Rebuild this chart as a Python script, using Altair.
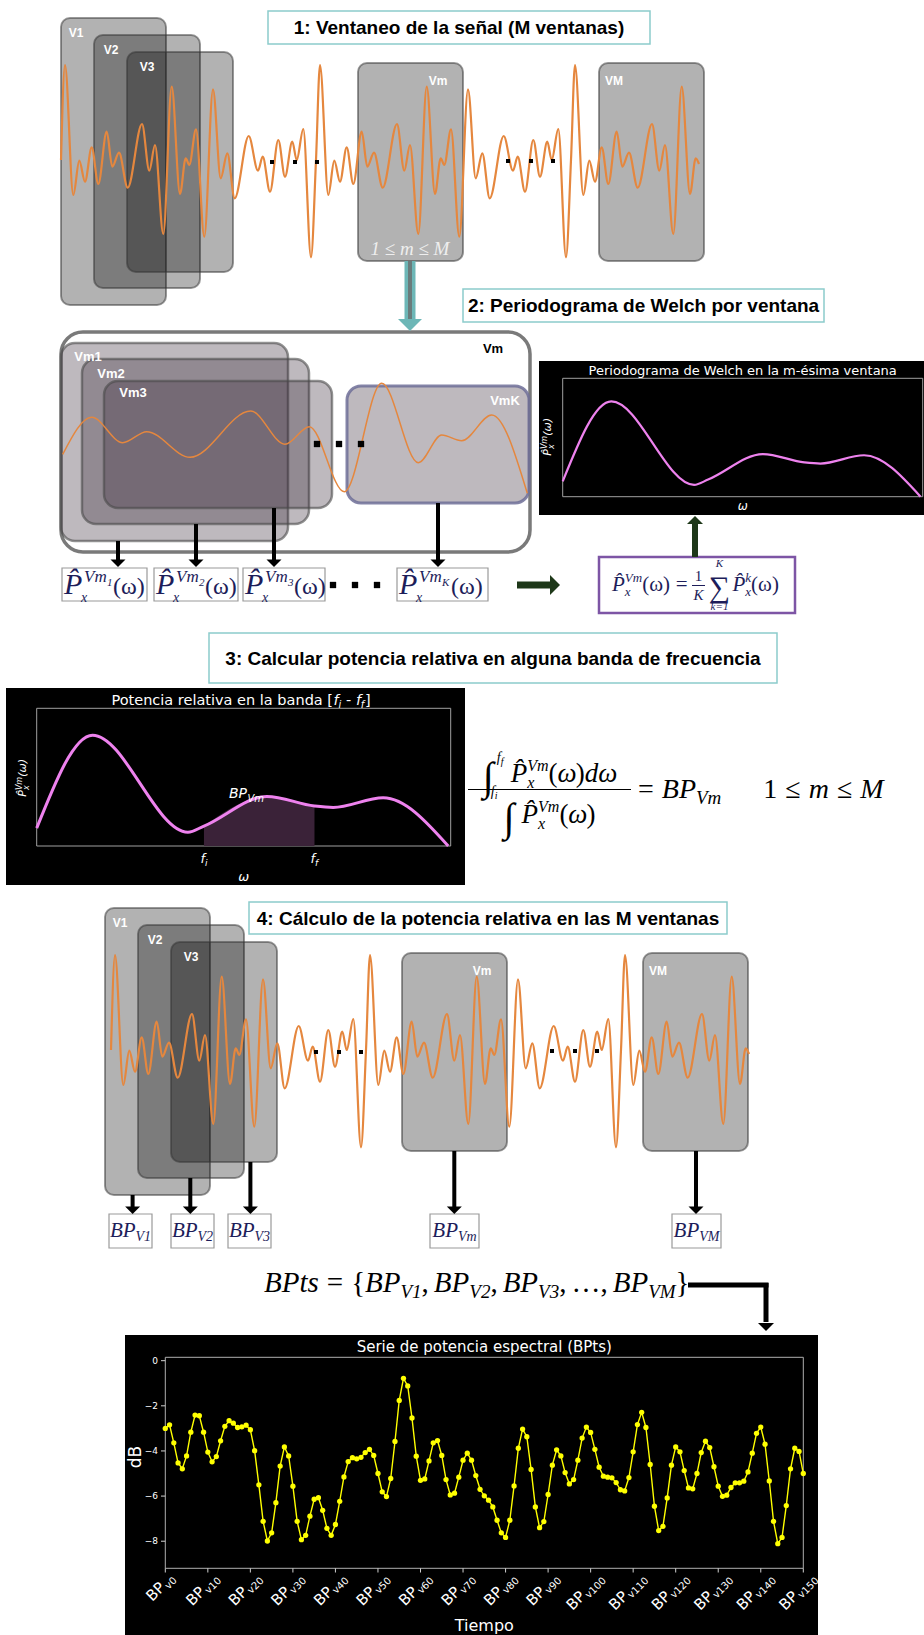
import altair as alt
import pandas as pd

W, H = 924, 1635

BLACK, WHITE = "#000000", "#ffffff"
ORANGE = "#e5873e"
VIOLET = "#ee82ee"
NAVY = "#1d1d5a"
TEAL = "#6db7b7"
DKGREEN = "#1e3819"
YELLOW = "#ffff00"

# ------------------------------------------------------------------ data
# raw signal: sample position and amplitude at each turning point
SIG_T = [0, 4, 12.3, 18.3, 24, 30.7, 37.3, 45.7, 51.3, 58, 66.7, 81, 88.3, 94, 102.3, 110.7,
         119, 124.7, 128.3, 135, 143.3, 152, 159.7, 166.3, 173.7, 187.7, 197, 201.7, 209,
         217.3, 224, 231.3, 235.7, 242.3, 250,
         255, 259, 267.3, 273.3, 279, 285.7, 292.3, 300.7, 306.3, 313, 321.7, 336, 343.3, 349,
         357.3, 365.7, 374, 379.7, 383.3, 390, 398.3, 407, 414.7, 421.3, 428.7, 442.7, 452,
         456.7, 464, 472.3, 479, 486.3, 490.7, 497.3, 505,
         510, 514, 522.3, 528.3, 534, 540.7, 547.3, 555.7, 561.3, 568, 576.7, 591, 598.3, 604,
         612.3, 620.7, 629, 634.7, 638]
SIG_A = [0, 95, -35, -0.7, -21.7, 12.7, -24, 28.3, -6.7, 7.3, -27.7, 36, -10.7, 15, -74, 73.3,
         -34, 1.7, -5, 30.7, -76.7, 70.7, -18.3, 6.7, -38.3, 24, -10.7, 3.3, -31.7,
         20, -16.7, 18.3, 0, 31, -97.3,
         0, 95, -35, -0.7, -21.7, 12.7, -24, 28.3, -6.7, 7.3, -27.7, 36, -10.7, 15,
         -74, 73.3, -34, 1.7, -5, 30.7, -76.7, 70.7, -18.3, 6.7, -38.3, 24, -10.7,
         3.3, -31.7, 20, -16.7, 18.3, 0, 31, -97.3,
         0, 95, -35, -0.7, -21.7, 12.7, -24, 28.3, -6.7, 7.3, -27.7, 36, -10.7, 15,
         -74, 73.3, -34, 1.7, -4]
# one window of the signal, magnified
SEG_T = [0, 29, 60, 84, 127.3, 188, 222.3, 246.6, 281.6, 319, 355.6, 379, 399, 429, 464.6]
SEG_A = [-9.3, 27.7, 2.3, 13.3, -12.3, 34, 0.7, 18.3, -46.7, 61.7, -17.7, 10, 4.3, 30, -48.3]
# Welch periodogram of the window (normalised frequency, normalised power)
PSD_W = [0.0, 0.135, 0.365, 0.404, 0.556, 0.671, 0.716, 0.837, 0.994]
PSD_P = [0.13, 0.805, 0.10, 0.145, 0.36, 0.29, 0.28, 0.35, 0.0]
BAND = (0.404, 0.671)
# relative band power of every window (dB)
BP_DB = [-3.00, -2.84, -3.64, -4.53, -4.79, -4.22, -3.17, -2.41, -2.44, -3.17,
         -4.05, -4.48, -4.25, -3.55, -2.91, -2.66, -2.77, -2.96, -2.93, -2.86,
         -3.06, -3.99, -5.50, -7.12, -7.99, -7.63, -6.29, -4.67, -3.82, -4.22,
         -5.56, -7.12, -7.93, -7.74, -6.89, -6.14, -6.07, -6.63, -7.43, -7.74,
         -7.26, -6.23, -5.15, -4.47, -4.30, -4.35, -4.28, -4.07, -3.93, -4.20,
         -5.00, -5.81, -6.02, -5.22, -3.58, -1.76, -0.78, -1.12, -2.54, -4.23,
         -5.30, -5.24, -4.44, -3.64, -3.54, -4.20, -5.27, -5.95, -5.87, -5.16,
         -4.41, -4.10, -4.41, -5.09, -5.70, -5.99, -6.18, -6.48, -7.07, -7.63,
         -7.83, -7.07, -5.55, -3.88, -3.03, -3.37, -4.82, -6.48, -7.40, -7.13,
         -5.93, -4.63, -3.95, -4.22, -4.96, -5.46, -5.27, -4.41, -3.43, -2.94,
         -3.18, -3.93, -4.72, -5.12, -5.16, -5.19, -5.40, -5.72, -5.77, -5.18,
         -4.04, -2.83, -2.29, -2.96, -4.60, -6.45, -7.53, -7.34, -6.08, -4.63,
         -3.82, -4.04, -4.87, -5.64, -5.68, -5.00, -4.07, -3.57, -3.85, -4.70,
         -5.56, -6.01, -5.96, -5.62, -5.41, -5.41, -5.34, -4.93, -4.10, -3.22,
         -2.94, -3.70, -5.33, -7.12, -8.11, -7.83, -6.42, -4.79, -3.88, -4.02, -5.00]
BP_TICKS = [0, 10, 20, 30, 40, 50, 60, 70, 80, 90, 100, 110, 120, 130, 140, 150]
BP_TICK_SUBS = ["v0", "v10", "v20", "v30", "v40", "v50", "v60", "v70", "v80", "v90",
                "v100", "v110", "v120", "v130", "v140", "v150"]
DB_TICKS = [0, -2, -4, -6, -8]
DB_LABELS = ["0", "\u22122", "\u22124", "\u22126", "\u22128"]

# ------------------------------------------------------------------ scales
PX = alt.Scale(domain=[0, W], range=[0, W], nice=False, zero=False)
PY = alt.Scale(domain=[0, H], range=[0, H], nice=False, zero=False)
BX = alt.Scale(domain=[0, 150], range=[165.3, 803.3], nice=False, zero=False)
BY = alt.Scale(domain=[-9.2, 0.15], range=[1568.3, 1357.3], nice=False, zero=False)
GX2 = alt.Scale(domain=[0, 1], range=[562.7, 922.7], nice=False, zero=False)
GY2 = alt.Scale(domain=[0, 1], range=[496.7, 378.3], nice=False, zero=False)
GX3 = alt.Scale(domain=[0, 1], range=[36.7, 450.7], nice=False, zero=False)
GY3 = alt.Scale(domain=[0, 1], range=[846, 708.3], nice=False, zero=False)

layers = []

# ------------------------------------------------------------------ boxes
def box(lst, x0, x1, y0, y1, fill=WHITE, fo=1.0, stroke=BLACK, so=1.0, sw=1.0):
    lst.append(dict(x0=x0, x1=x1, y0=y0, y1=y1, fill=fill, fo=fo,
                    stroke=stroke, so=so, sw=sw))


def rect_layer(rows, radius=0):
    df = pd.DataFrame(rows)
    return alt.Chart(df).mark_rect(cornerRadius=radius).encode(
        x=alt.X("x0:Q", scale=PX, axis=None), x2="x1:Q",
        y=alt.Y("y0:Q", scale=PY, axis=None), y2="y1:Q",
        fill=alt.Fill("fill:N", scale=None),
        fillOpacity=alt.FillOpacity("fo:Q", scale=None),
        stroke=alt.Stroke("stroke:N", scale=None),
        strokeOpacity=alt.StrokeOpacity("so:Q", scale=None),
        strokeWidth=alt.StrokeWidth("sw:Q", scale=None))


flat = []
TITLE_EDGE = "#8ccccc"
box(flat, 268, 650, 11, 44, stroke=TITLE_EDGE, sw=1.5)
box(flat, 463, 824, 289, 322, stroke=TITLE_EDGE, sw=1.5)
box(flat, 209, 777, 633, 683, stroke=TITLE_EDGE, sw=1.5)
box(flat, 249, 727, 902, 934, stroke=TITLE_EDGE, sw=1.5)
# dark panels and their frames
box(flat, 539, 924, 361, 515, fill=BLACK, stroke=BLACK, sw=0)
box(flat, 562.7, 922.7, 378.3, 496.7, fill=BLACK, fo=0, stroke="#a0a0a0", sw=1)
box(flat, 6, 465, 688, 885, fill=BLACK, stroke=BLACK, sw=0)
box(flat, 36.7, 450.7, 708.3, 846, fill=BLACK, fo=0, stroke="#a0a0a0", sw=1)
box(flat, 125, 818, 1335, 1635, fill=BLACK, stroke=BLACK, sw=0)
box(flat, 165.3, 803.3, 1357.3, 1568.3, fill=BLACK, fo=0, stroke="#b0b0b0", sw=1)
# formula boxes
for x0, x1 in [(62, 147), (154, 238), (243, 325), (397, 488)]:
    box(flat, x0, x1, 568, 601, stroke="#9a9a9a", sw=1.2)
box(flat, 599, 795, 557, 613, stroke="#7d55a5", sw=2.5)
BP_BOXES = [(109, 152, "V1"), (171, 214, "V2"), (228, 271, "V3"),
            (430, 479, "Vm"), (672, 721, "VM")]
for x0, x1, _ in BP_BOXES:
    box(flat, x0, x1, 1214, 1248, stroke="#9a9a9a", sw=1.2)
layers.append(rect_layer(flat))

# signal windows (panel 1 and the same layout again in panel 4)
WIN = [(61, 166, 18, 305), (94, 200, 35, 288), (127, 233, 52, 272),
       (358, 463, 63, 261), (599, 704, 63, 261)]
wins = []
for dx, dy in [(0, 0), (44, 890)]:
    for x0, x1, y0, y1 in WIN:
        box(wins, x0 + dx, x1 + dx, y0 + dy, y1 + dy, fill=BLACK, fo=0.30,
            stroke="#333333", so=0.5, sw=2)
layers.append(rect_layer(wins, 9))

cont = []
box(cont, 61, 530, 332, 552, stroke="#7a7a7a", sw=3.5)
layers.append(rect_layer(cont, 22))

sub = []
for x0, x1, y0, y1 in [(61, 288, 343, 541), (82, 309, 359, 524), (104, 332, 381, 508)]:
    box(sub, x0, x1, y0, y1, fill="#3b2a3b", fo=0.33, stroke="#4a4a4a", so=0.6, sw=2.5)
box(sub, 347, 529, 386, 503, fill="#3b2a3b", fo=0.33, stroke="#6f6f98", so=0.85, sw=3)
layers.append(rect_layer(sub, 14))


# ------------------------------------------------------------------ curves
def wave(t, a, tdom, adom, xr, yr, color, width):
    df = pd.DataFrame({"t": t, "a": a})
    return alt.Chart(df).mark_line(color=color, strokeWidth=width,
                                   interpolate="monotone").encode(
        x=alt.X("t:Q", scale=alt.Scale(domain=tdom, range=xr, nice=False, zero=False), axis=None),
        y=alt.Y("a:Q", scale=alt.Scale(domain=adom, range=yr, nice=False, zero=False), axis=None))


layers.append(wave(SIG_T, SIG_A, [0, 639], [-100, 100], [61, 700], [260, 60], ORANGE, 2.2))
layers.append(wave(SIG_T, SIG_A, [0, 639], [-100, 100], [111, 750], [1150, 950], ORANGE, 2.2))
layers.append(wave(SEG_T, SEG_A, [0, 464.6], [-100, 100], [62.7, 527.3], [545, 345], ORANGE, 1.5))

psd = pd.DataFrame({"w": PSD_W, "p": PSD_P})
layers.append(alt.Chart(psd).transform_filter(
    (alt.datum.w >= BAND[0]) & (alt.datum.w <= BAND[1])
).mark_area(color="#3a2238", interpolate="monotone").encode(
    x=alt.X("w:Q", scale=GX3, axis=None),
    y=alt.Y("p:Q", scale=GY3, axis=None), y2=alt.datum(0)))
for gx, gy, lw in [(GX2, GY2, 2.2), (GX3, GY3, 3)]:
    layers.append(alt.Chart(psd).mark_line(color=VIOLET, strokeWidth=lw,
                                           interpolate="monotone").encode(
        x=alt.X("w:Q", scale=gx, axis=None), y=alt.Y("p:Q", scale=gy, axis=None)))

# ------------------------------------------------------------------ arrows
rules = []
heads = []


def rule(x0, y0, x1, y1, color=BLACK, w=4):
    rules.append(dict(x0=x0, y0=y0, x1=x1, y1=y1, color=color, w=w))


def head(x, y, w, color=BLACK, angle=0):
    heads.append(dict(x=x, y=y, size=w * w, color=color, angle=angle))


rule(410, 261, 410, 321, TEAL, 11)
rule(410, 261, 410, 319, "#6a7c7c", 4)
head(410, 325, 24, TEAL)
for x, y0 in [(118, 541), (196, 524), (274, 508), (438, 503)]:
    rule(x, y0, x, 561)
    head(x, 563.3, 15)
rule(517, 585, 551, 585, DKGREEN, 7)
head(555, 585, 20, DKGREEN, 270)
rule(695, 557, 695, 524, DKGREEN, 6)
head(695, 520, 16, DKGREEN, 180)
for x, y0 in [(132.6, 1195), (190.3, 1178), (250.4, 1162), (454.3, 1151), (696, 1151)]:
    rule(x, y0, x, 1208)
    head(x, 1210.3, 15)
rule(688, 1285, 768.5, 1285, BLACK, 5)
rule(766, 1283, 766, 1322, BLACK, 5)
head(766, 1327, 16)
rule(468, 789.5, 631, 789.5, BLACK, 1.2)
rule(692, 585.5, 705, 585.5, NAVY, 1)

layers.append(alt.Chart(pd.DataFrame(rules)).mark_rule(strokeCap="butt").encode(
    x=alt.X("x0:Q", scale=PX, axis=None), x2="x1:Q",
    y=alt.Y("y0:Q", scale=PY, axis=None), y2="y1:Q",
    color=alt.Color("color:N", scale=None),
    strokeWidth=alt.StrokeWidth("w:Q", scale=None)))
layers.append(alt.Chart(pd.DataFrame(heads)).mark_point(
    shape="M-1,-0.5L1,-0.5L0,0.5Z", filled=True, opacity=1, strokeWidth=0).encode(
    x=alt.X("x:Q", scale=PX, axis=None), y=alt.Y("y:Q", scale=PY, axis=None),
    size=alt.Size("size:Q", scale=None), color=alt.Color("color:N", scale=None),
    angle=alt.Angle("angle:Q", scale=None)))

# "· · ·" continuation marks
dots = []
for dx, dy in [(0, 0), (44, 890)]:
    for x, y in [(272, 162), (295, 162), (317, 162), (508, 161), (531, 161), (553, 161)]:
        dots.append(dict(x=x + dx, y=y + dy, s=16))
for x, y in [(317, 444), (339, 444), (361, 444), (333, 585), (355, 585), (377, 585)]:
    dots.append(dict(x=x, y=y, s=40))
layers.append(alt.Chart(pd.DataFrame(dots)).mark_square(color=BLACK, opacity=1).encode(
    x=alt.X("x:Q", scale=PX, axis=None), y=alt.Y("y:Q", scale=PY, axis=None),
    size=alt.Size("s:Q", scale=None)))

# ------------------------------------------------------------------ text
STY = {
    "head": dict(font="Liberation Sans", fontWeight="bold", align="center", baseline="middle"),
    "lab": dict(font="Liberation Sans", fontWeight="bold", align="center", baseline="middle"),
    "mpl": dict(font="DejaVu Sans", align="center", baseline="middle"),
    "mpl_r": dict(font="DejaVu Sans", align="right", baseline="alphabetic"),
    "mpl_l": dict(font="DejaVu Sans", align="left", baseline="alphabetic"),
    "mpl_i": dict(font="DejaVu Sans", fontStyle="italic", align="left", baseline="alphabetic"),
    "mpl_ic": dict(font="DejaVu Sans", fontStyle="italic", align="center", baseline="alphabetic"),
    "ser": dict(font="Liberation Serif", align="left", baseline="alphabetic"),
    "ser_i": dict(font="Liberation Serif", fontStyle="italic", align="left", baseline="alphabetic"),
    "ser_c": dict(font="Liberation Serif", align="center", baseline="alphabetic"),
    "ser_ic": dict(font="Liberation Serif", fontStyle="italic", align="center", baseline="alphabetic"),
}
texts = {k: [] for k in STY}


def add(style, text, x, y, size, color=BLACK, angle=0):
    texts[style].append(dict(text=text, x=x, y=y, size=size, color=color, angle=angle))


SER_REG = {"=": .564, "{": .48, "}": .48, ",": .25, " ": .25, "(": .333, ")": .333,
           "1": .5, "2": .5, "3": .5, "\u2264": .549, "\u2211": .713, "\u222b": .3,
           "\u03c9": .69, "\u2026": 1.0}
SER_IT = {"B": .611, "P": .611, "t": .278, "s": .389, "V": .611, "M": .833, "m": .722,
          "x": .444, "k": .444, "K": .667, "f": .278, "i": .278, "d": .5, "\u03c9": .67,
          "1": .5, "2": .5, "3": .5, "=": .675}


def sw(text, size, italic):
    tbl = SER_IT if italic else SER_REG
    return sum(0.0 if c == "\u0302" else tbl.get(c, 0.5) for c in text) * size


def seq(x, y, color, parts, draw=True):
    for p in parts:
        if p[0] == "_gap":
            x += p[1]
        elif p[0] == "_ss":
            _, sup, sb, size, dsup, dsb = p
            if draw:
                add("ser_i", sup, x, y + dsup, size, color)
                add("ser_i", sb, x, y + dsb, size, color)
            x += max(sw(sup, size, True), sw(sb, size, True))
        else:
            text, size, ital, dy = p
            if draw:
                add("ser_i" if ital else "ser", text, x, y + dy, size, color)
            x += sw(text, size, ital)
    return x


P_HAT = "P\u0302"

# section headings
add("head", "1: Ventaneo de la señal (M ventanas)", 459, 28, 19)
add("head", "2: Periodograma de Welch por ventana", 643.5, 306, 19)
add("head", "3: Calcular potencia relativa en alguna banda de frecuencia", 493, 659, 19)
add("head", "4: Cálculo de la potencia relativa en las M ventanas", 488, 918.5, 19)

# panel 1 / panel 4 window labels
for dx, dy in [(0, 0), (44, 890)]:
    for lbl, x, y in [("V1", 76, 33), ("V2", 111, 50), ("V3", 147, 67), ("Vm", 438, 81), ("VM", 614, 81)]:
        add("lab", lbl, x + dx, y + dy, 12, WHITE)
add("ser_ic", "1 \u2264 m \u2264 M", 410, 255, 19, "#eeeeee")

# panel 2
add("lab", "Vm", 493, 349, 13, BLACK)
for lbl, x, y in [("Vm1", 88, 357), ("Vm2", 111, 374), ("Vm3", 133, 393), ("VmK", 505, 401)]:
    add("lab", lbl, x, y, 13, WHITE)
for x0, idx in [(62, "1"), (154, "2"), (243, "3"), (397, "K")]:
    add("ser_i", P_HAT, x0 + 2, 594, 30, NAVY)
    add("ser_i", "x", x0 + 19, 602, 14, NAVY)
    add("ser_i", "Vm", x0 + 22, 582, 17, NAVY)
    add("ser_i", idx, x0 + 45, 586, 11, NAVY)
    add("ser", "(\u03c9)", x0 + (54 if idx == "K" else 51), 594, 24, NAVY)
add("mpl", "Periodograma de Welch en la m-ésima ventana", 742.7, 371, 13, WHITE)
add("mpl_ic", "\u03c9", 742.7, 510, 12, WHITE)


def ylabel(bx, ymid):
    y0 = ymid + 18.7
    add("mpl_i", P_HAT, bx, y0, 11, WHITE, 270)
    add("mpl_i", "Vm", bx - 4, y0 - 6.6, 8, WHITE, 270)
    add("mpl_i", "x", bx + 2.5, y0 - 6.6, 8, WHITE, 270)
    add("mpl_i", "(\u03c9)", bx, y0 - 19.9, 11, WHITE, 270)


ylabel(551, 437)
ylabel(26, 778)

# averaged periodogram formula
fy = 591
x = seq(612, fy, NAVY, [(P_HAT, 21, True, 0), ("_ss", "Vm", "x", 13, -9, 5),
                        ("(\u03c9)", 21, False, 0), ("_gap", 5), ("=", 21, False, 0), ("_gap", 5)])
add("ser_c", "1", x + 6, 581, 15, NAVY)
add("ser_ic", "K", x + 6, 600, 15, NAVY)
x += 16
add("ser_c", "\u2211", x + 11, 597, 30, NAVY)
add("ser_ic", "K", x + 11, 567, 11, NAVY)
add("ser_ic", "k=1", x + 11, 610, 11, NAVY)
x += 24
seq(x, fy, NAVY, [(P_HAT, 21, True, 0), ("_ss", "k", "x", 13, -9, 5), ("(\u03c9)", 21, False, 0)])

# panel 3
J = 333
add("mpl_r", "Potencia relativa en la banda [", J, 705, 14.5, WHITE)
add("mpl_i", "f", J + 0.5, 705, 14.5, WHITE)
add("mpl_i", "i", J + 5.4, 708, 10, WHITE)
add("mpl_l", "-", J + 13, 705, 14.5, WHITE)
add("mpl_i", "f", J + 23, 705, 14.5, WHITE)
add("mpl_i", "f", J + 27.8, 708, 10, WHITE)
add("mpl_l", "]", J + 32, 705, 14.5, WHITE)
add("mpl_i", "BP", 229, 798, 14, WHITE)
add("mpl_i", "Vm", 247.5, 802, 10, WHITE)
add("mpl_i", "f", 200.5, 863, 13, WHITE)
add("mpl_i", "i", 205, 866, 9, WHITE)
add("mpl_i", "f", 310.5, 863, 13, WHITE)
add("mpl_i", "f", 315, 866, 9, WHITE)
add("mpl_ic", "\u03c9", 243.7, 881, 13, WHITE)

num = [("\u222b", 40, False, 8), ("_gap", 16), (P_HAT, 27, True, 0), ("_ss", "Vm", "x", 16, -11, 6),
       ("(", 27, False, 0), ("\u03c9", 27, True, 0), (")", 27, False, 0),
       ("d", 27, True, 0), ("\u03c9", 27, True, 0)]
den = [("\u222b", 40, False, 8), ("_gap", 6), (P_HAT, 27, True, 0), ("_ss", "Vm", "x", 16, -11, 6),
       ("(", 27, False, 0), ("\u03c9", 27, True, 0), (")", 27, False, 0)]
xn = 549.5 - (seq(0, 0, BLACK, num, draw=False)) / 2
seq(xn, 782, BLACK, num)
add("ser_i", "f", xn + 14, 762, 14)
add("ser_i", "f", xn + 18, 765, 10)
add("ser_i", "f", xn + 8, 796, 14)
add("ser_i", "i", xn + 12, 799, 10)
xd = 549.5 - (seq(0, 0, BLACK, den, draw=False)) / 2
seq(xd, 823, BLACK, den)
seq(638, 798, BLACK, [("=", 28, False, 0), ("_gap", 8), ("BP", 28, True, 0), ("V", 19, True, 6),
                      ("m", 19, True, 6), ("_gap", 42), ("1", 28, False, 0), ("_gap", 8),
                      ("\u2264", 28, False, 0), ("_gap", 8), ("m", 28, True, 0), ("_gap", 8),
                      ("\u2264", 28, False, 0), ("_gap", 8), ("M", 28, True, 0)])

# panel 4
for x0, x1, sb in BP_BOXES:
    wbp = sw("BP", 21, True)
    wsb = sw(sb, 14, True)
    sx = (x0 + x1) / 2 - (wbp + wsb) / 2
    add("ser_i", "BP", sx, 1237, 21, NAVY)
    add("ser_i", sb, sx + wbp, 1241, 14, NAVY)

parts = [("BPts", 29, True, 0), ("_gap", 8), ("=", 29, False, 0), ("_gap", 8), ("{", 29, False, 0)]
for n in ["1", "2", "3"]:
    parts += [("BP", 29, True, 0), ("V" + n, 19, True, 6), (",", 29, False, 0), ("_gap", 5)]
parts += [("\u2026", 29, False, 0), (",", 29, False, 0), ("_gap", 5),
          ("BP", 29, True, 0), ("VM", 19, True, 6), ("}", 29, False, 0)]
seq(264, 1292, BLACK, parts)

# BPts panel titles
add("mpl", "Serie de potencia espectral (BPts)", 484.3, 1347, 15, WHITE)
add("mpl", "Tiempo", 484.3, 1626, 16, WHITE)
add("mpl", "dB", 136, 1457, 17, WHITE, 270)

for style, rows in texts.items():
    if not rows:
        continue
    layers.append(alt.Chart(pd.DataFrame(rows)).mark_text(**STY[style]).encode(
        x=alt.X("x:Q", scale=PX, axis=None), y=alt.Y("y:Q", scale=PY, axis=None),
        text="text:N", size=alt.Size("size:Q", scale=None),
        color=alt.Color("color:N", scale=None), angle=alt.Angle("angle:Q", scale=None)))

# ------------------------------------------------------------------ BPts series
bp = pd.DataFrame({"i": list(range(len(BP_DB))), "db": BP_DB})
layers.append(alt.Chart(bp).mark_line(color=YELLOW, strokeWidth=1.4).encode(
    x=alt.X("i:Q", scale=BX, axis=None), y=alt.Y("db:Q", scale=BY, axis=None)))
layers.append(alt.Chart(bp).mark_circle(color=YELLOW, opacity=1, size=28).encode(
    x=alt.X("i:Q", scale=BX, axis=None), y=alt.Y("db:Q", scale=BY, axis=None)))

xt = pd.DataFrame({"t": BP_TICKS, "sub": BP_TICK_SUBS})
layers.append(alt.Chart(xt).mark_rule(color="#d0d0d0", strokeWidth=1).encode(
    x=alt.X("t:Q", scale=BX, axis=None), y=alt.value(1568.3), y2=alt.value(1572.5)))
yt = pd.DataFrame({"v": DB_TICKS, "lab": DB_LABELS})
layers.append(alt.Chart(yt).mark_rule(color="#d0d0d0", strokeWidth=1).encode(
    y=alt.Y("v:Q", scale=BY, axis=None), x=alt.value(161), x2=alt.value(165.3)))
layers.append(alt.Chart(yt).mark_text(font="DejaVu Sans", fontSize=9, color=WHITE,
                                      align="right", baseline="middle").encode(
    y=alt.Y("v:Q", scale=BY, axis=None), x=alt.value(158), text="lab:N"))

for lo, hi, wsub, xo in [(0, 0, 12.3, 10), (10, 90, 18.6, 12), (100, 150, 25.0, 14)]:
    base = alt.Chart(xt).transform_filter((alt.datum.t >= lo) & (alt.datum.t <= hi))
    enc = dict(x=alt.X("t:Q", scale=BX, axis=None), y=alt.value(1579))
    layers.append(base.mark_text(font="DejaVu Sans", fontSize=10, color=WHITE, align="right",
                                 baseline="alphabetic", angle=315, dy=3, xOffset=xo).encode(
        text="sub:N", **enc))
    layers.append(base.mark_text(font="DejaVu Sans", fontSize=15, color=WHITE, align="right",
                                 baseline="alphabetic", angle=315, dx=-(wsub + 1), xOffset=xo).encode(
        text=alt.value("BP"), **enc))

chart = alt.layer(*layers).resolve_scale(x="independent", y="independent").properties(
    width=W, height=H, padding=0, autosize="none", background=WHITE
).configure_view(stroke=None)

chart.save("out.html", embed_options={"renderer": "svg", "actions": False})
